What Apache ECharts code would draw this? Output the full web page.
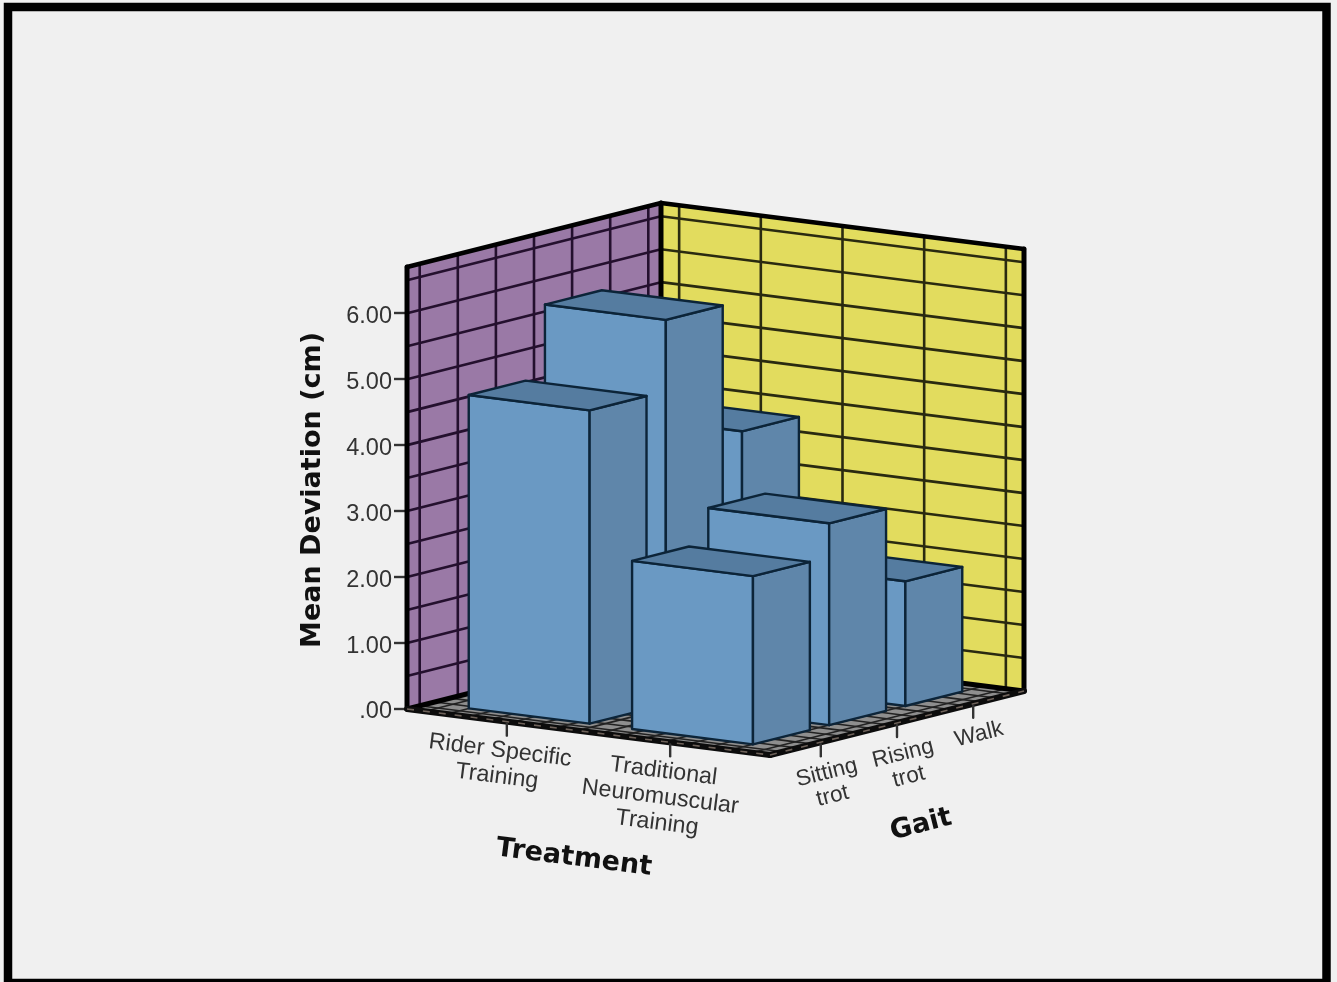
<!DOCTYPE html>
<html>
<head>
<meta charset="utf-8">
<style>html,body{margin:0;padding:0;background:#f0f0f0;overflow:hidden}#c{width:1337px;height:982px;filter:blur(0.55px)}</style>
<script src="https://cdn.jsdelivr.net/npm/echarts@6/dist/echarts.min.js"></script>
</head>
<body>
<div id="c"></div>
<script>
// ---- data ----
var treatments = ['Rider Specific\nTraining', 'Traditional\nNeuromuscular\nTraining'];
var gaits = ['Sitting\ntrot', 'Rising\ntrot', 'Walk'];
var riderValues = [4.75, 5.83, 3.85];
var traditionalValues = [2.55, 3.06, 1.89];
var yTicks = [0, 1, 2, 3, 4, 5, 6];
var treatmentCentres = [0.275, 0.725];
var gaitCentres = [0.2, 0.5, 0.8];
var yTitle = 'Mean Deviation (cm)', treatmentTitle = 'Treatment', gaitTitle = 'Gait';
// ---- 3D look ----
var Y_TOP = 6.7, PX_PER_UNIT = 442 / 6.7;
var GX = 254 / 363, TY = -46 / PX_PER_UNIT, GY = 64 / PX_PER_UNIT;
var BAR_W = 0.333, BAR_D = 0.224;
var wallYLines = [0.5,1,1.5,2,2.5,3,3.5,4,4.5,5,5.5,6,6.5];
var wallTLines = [0.05,0.275,0.5,0.725,0.95];
var wallGLines = [0.05,0.2,0.35,0.5,0.65,0.8,0.95];
var floorLines = [0.05,0.11,0.17,0.23,0.29,0.35,0.41,0.47,0.53,0.59,0.65,0.71,0.77,0.83,0.89,0.95];
var ROT_T = -Math.atan(46 / 363), ROT_G = Math.atan(64 / 254);

function P(api, t, g, v) { return api.coord([t + g * GX, v + t * TY + g * GY]); }
function poly(pts, fill, stroke, lw) {
  return {type:'polygon', shape:{points:pts}, style:{fill:fill, stroke:stroke, lineWidth:lw, lineJoin:'round'}};
}
function seg(a, b, c, lw, dash) {
  return {type:'line', shape:{x1:a[0],y1:a[1],x2:b[0],y2:b[1]}, style:{stroke:c, lineWidth:lw, lineCap:dash ? 'butt' : 'round', lineDash:dash || null, fill:null}};
}
function renderFrame(params, api) {
  var ch = [], PURPLE = '#9a79a6', YELLOW = '#e2dc5e', FLOOR = '#8e8e8e';
  var L0 = P(api,0,0,0), B0 = P(api,0,1,0), R0 = P(api,1,1,0), F0 = P(api,1,0,0);
  var LT = P(api,0,0,Y_TOP), BT = P(api,0,1,Y_TOP), RT = P(api,1,1,Y_TOP);
  ch.push(poly([L0,B0,BT,LT], PURPLE));
  ch.push(poly([B0,R0,RT,BT], YELLOW));
  ch.push(poly([L0,B0,R0,F0], FLOOR));
  var cp = '#24102e', cy = '#2a2a10';
  wallYLines.forEach(function (v) {
    ch.push(seg(P(api,0,0,v), P(api,0,1,v), cp, 2.6));
    ch.push(seg(P(api,0,1,v), P(api,1,1,v), cy, 2.6));
  });
  wallGLines.forEach(function (g) {
    ch.push(seg(P(api,0,g,0), P(api,0,g,Y_TOP), cp, 2.6));
  });
  wallTLines.forEach(function (t) {
    ch.push(seg(P(api,t,1,0), P(api,t,1,Y_TOP), cy, 2.6));
  });
  floorLines.forEach(function (f) {
    ch.push(seg(P(api,0,f,0), P(api,1,f,0), '#222', 1.6));
    ch.push(seg(P(api,f,0,0), P(api,f,1,0), '#222', 1.6));
  });
  ch.push(seg(L0, LT, '#000', 5));
  ch.push(seg(LT, BT, '#000', 4.5));
  ch.push(seg(BT, RT, '#000', 4.5));
  ch.push(seg(BT, B0, '#000', 5));
  ch.push(seg(RT, R0, '#000', 5));
  ch.push(seg(L0, B0, '#000', 5));
  ch.push(seg(B0, R0, '#000', 5));
  ch.push(seg(L0, F0, '#0c0c0c', 6));
  ch.push(seg(F0, R0, '#0c0c0c', 6));
  ch.push(seg(L0, F0, '#6e625a', 1.6, [7, 9]));
  ch.push(seg(F0, R0, '#6e625a', 1.6, [7, 9]));
  return {type:'group', children:ch};
}
function renderBar(params, api) {
  var tc = treatmentCentres[api.value(0)], gc = gaitCentres[api.value(1)], v = api.value(2);
  var t0 = tc - BAR_W/2, t1 = tc + BAR_W/2, g0 = gc - BAR_D/2, g1 = gc + BAR_D/2;
  var E = '#0c2438', LW = 2.4;
  return {type:'group', children:[
    poly([P(api,t0,g0,0),P(api,t1,g0,0),P(api,t1,g0,v),P(api,t0,g0,v)], '#6a99c3', E, LW),
    poly([P(api,t1,g0,0),P(api,t1,g1,0),P(api,t1,g1,v),P(api,t1,g0,v)], '#5f86aa', E, LW),
    poly([P(api,t0,g0,v),P(api,t1,g0,v),P(api,t1,g1,v),P(api,t0,g1,v)], '#557ca0', E, LW)
  ]};
}
function label(x, y, txt, rot, font, fill, lh, va) {
  return {type:'text', x:x, y:y, rotation:rot, style:{text:txt, font:font, fill:fill, align:'center', verticalAlign:va || 'top', lineHeight:lh}};
}
var TREAT_FONT = '23.3px "Liberation Sans"', GAIT_FONT = '22.5px "Liberation Sans"', TITLE_FONT = 'bold 27px "DejaVu Sans"', TXT = '#333';
function renderTreatment(params, api) {
  var i = api.value(0), a = P(api, treatmentCentres[i], 0, 0), e = [a[0], a[1] + 14];
  return {type:'group', children:[seg([a[0],a[1]+2], e, '#333', 2.4), label(e[0]-5, e[1]+2, treatments[i], ROT_T, TREAT_FONT, TXT, 26)]};
}
function renderGait(params, api) {
  var i = api.value(0), a = P(api, 1, gaitCentres[i], 0), e = [a[0], a[1] + 14];
  return {type:'group', children:[seg([a[0],a[1]+2], e, '#333', 2.4), label(e[0]+3, e[1]+5, gaits[i], ROT_G, GAIT_FONT, TXT, 24)]};
}
function renderTitles(params, api) {
  var a = P(api, 0.46, 0, 0), b = P(api, 1, 0.5, 0);
  return {type:'group', children:[
    label(a[0], a[1] + 128, treatmentTitle, ROT_T, TITLE_FONT, '#111', 30, 'middle'),
    label(b[0] + 24, b[1] + 102, gaitTitle, ROT_G, TITLE_FONT, '#111', 30, 'middle')
  ]};
}
var barRows = [];
[riderValues, traditionalValues].forEach(function (vals, t) {
  for (var g = vals.length - 1; g >= 0; g--) barRows.push([t, g, vals[g]]);
});
var chart = echarts.init(document.getElementById('c'));
chart.setOption({
  animation:false,
  backgroundColor:'#f0f0f0',
  graphic:[{type:'rect', z:-1, shape:{x:8, y:7, width:1318.5, height:976}, style:{fill:'#f0f0f0', stroke:'#000', lineWidth:8.5}}],
  grid:{left:407, width:363, top:267, height:442, containLabel:false},
  xAxis:{type:'value', min:0, max:1, show:false},
  yAxis:{type:'value', min:0, max:Y_TOP, name:yTitle, nameLocation:'middle', nameGap:81, nameRotate:90,
    nameTextStyle:{fontFamily:'DejaVu Sans', fontWeight:'bold', fontSize:27, color:'#111', padding:[0,4,0,0]},
    axisLine:{show:false}, splitLine:{show:false},
    axisTick:{show:true, length:13, customValues:yTicks, lineStyle:{color:'#333', width:2.4}},
    axisLabel:{customValues:yTicks, margin:15, fontFamily:'Liberation Sans', fontSize:23.5, color:TXT, verticalAlign:'top', lineHeight:6,
      formatter:function (v) { return v === 0 ? '.00' : v.toFixed(2); }}},
  series:[
    {type:'custom', coordinateSystem:'cartesian2d', silent:true, data:[[0,0]], renderItem:renderFrame, z:1},
    {type:'custom', coordinateSystem:'cartesian2d', silent:true, data:treatments.map(function(_,i){return [i,0];}), renderItem:renderTreatment, z:1},
    {type:'custom', coordinateSystem:'cartesian2d', silent:true, data:gaits.map(function(_,i){return [i,0];}), renderItem:renderGait, z:1},
    {type:'custom', coordinateSystem:'cartesian2d', silent:true, data:[[0,0]], renderItem:renderTitles, z:1},
    {type:'custom', coordinateSystem:'cartesian2d', silent:true, data:barRows, renderItem:renderBar, z:2}
  ]
});
</script>
</body>
</html>
